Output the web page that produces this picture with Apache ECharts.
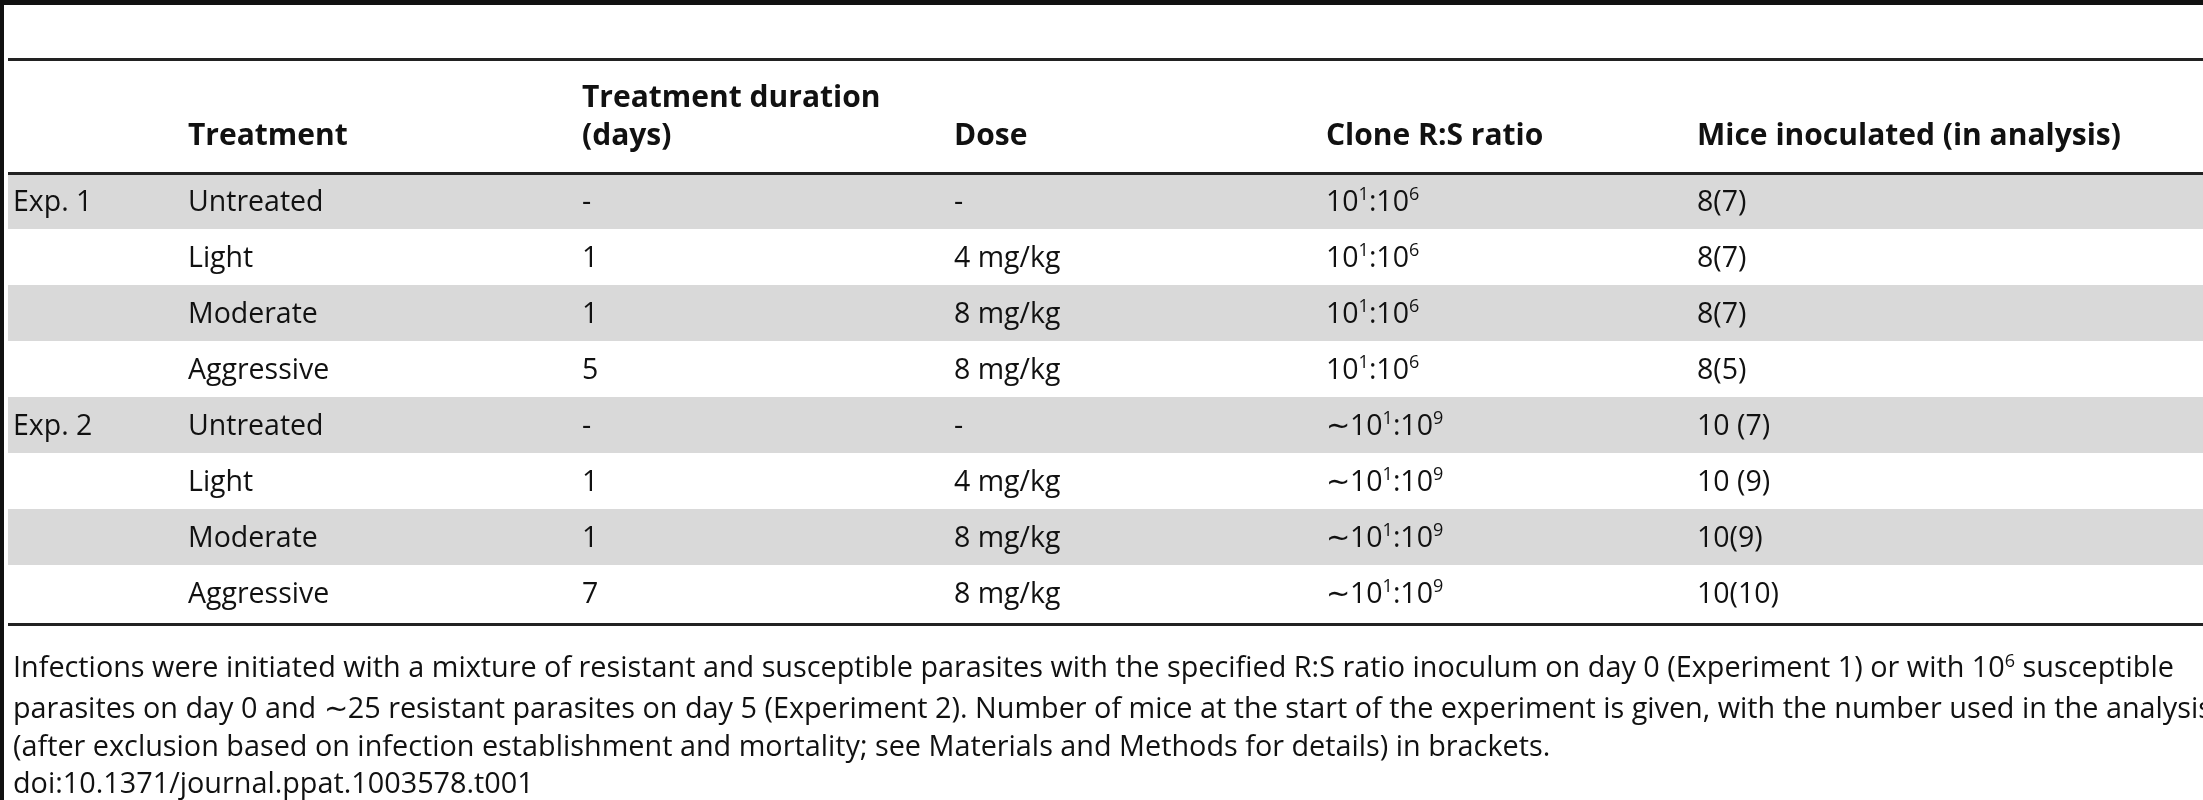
<!DOCTYPE html>
<html><head><meta charset="utf-8">
<script src="https://cdn.jsdelivr.net/npm/echarts@6/dist/echarts.min.js"></script>
<style>html,body{margin:0;padding:0;background:#fff}#c{width:2203px;height:800px}</style>
</head><body><div id="c"></div>
<script>
const headers = ["", "Treatment", "Treatment duration\n(days)", "Dose", "Clone R:S ratio", "Mice inoculated (in analysis)"];
const experiments = ["Exp. 1", "", "", "", "Exp. 2", "", "", ""];
const treatments = ["Untreated", "Light", "Moderate", "Aggressive", "Untreated", "Light", "Moderate", "Aggressive"];
const durations = ["-", "1", "1", "5", "-", "1", "1", "7"];
const doses = ["-", "4 mg/kg", "8 mg/kg", "8 mg/kg", "-", "4 mg/kg", "8 mg/kg", "8 mg/kg"];
const ratios = ["10{s|1}:10{s|6}", "10{s|1}:10{s|6}", "10{s|1}:10{s|6}", "10{s|1}:10{s|6}",
  "∼10{s|1}:10{s|9}", "∼10{s|1}:10{s|9}", "∼10{s|1}:10{s|9}", "∼10{s|1}:10{s|9}"];
const mice = ["8(7)", "8(7)", "8(7)", "8(5)", "10 (7)", "10 (9)", "10(9)", "10(10)"];
const footnote = [
  "Infections were initiated with a mixture of resistant and susceptible parasites with the specified R:S ratio inoculum on day 0 (Experiment 1) or with 10{s|6} susceptible",
  "parasites on day 0 and ∼25 resistant parasites on day 5 (Experiment 2). Number of mice at the start of the experiment is given, with the number used in the analysis",
  "(after exclusion based on infection establishment and mortality; see Materials and Methods for details) in brackets.",
  "doi:10.1371/journal.ppat.1003578.t001"
];

const colX = [13, 188, 582, 954, 1326, 1697];
const rowTop = 173, rowH = 56;
const FONT = '"Open Sans", "Noto Sans", sans-serif';
const rich = { s: { fontSize: 18, fontFamily: FONT, fill: '#111', padding: [0, 0, 16, 0] } };
const els = [];
els.push({ type: 'rect', shape: { x: 0, y: 0, width: 2203, height: 5 }, style: { fill: '#111' } });
els.push({ type: 'rect', shape: { x: 0, y: 0, width: 4, height: 800 }, style: { fill: '#111' } });
els.push({ type: 'rect', shape: { x: 8, y: 58, width: 2195, height: 3 }, style: { fill: '#222' } });
for (let i = 0; i < treatments.length; i++) {
  if (i % 2 === 0) els.push({ type: 'rect', shape: { x: 8, y: rowTop + i * rowH, width: 2195, height: rowH }, style: { fill: '#d9d9d9' } });
}
els.push({ type: 'rect', shape: { x: 8, y: 172, width: 2195, height: 3 }, style: { fill: '#222' } });
els.push({ type: 'rect', shape: { x: 8, y: rowTop + treatments.length * rowH + 2, width: 2195, height: 3 }, style: { fill: '#222' } });
headers.forEach((h, j) => {
  if (!h) return;
  const lines = h.split('\n');
  lines.forEach((l, k) => {
    els.push({ type: 'text', x: colX[j], y: 136 - (lines.length - 1 - k) * 38, style: { text: l, font: 'bold 30px ' + FONT, fill: '#111', verticalAlign: 'middle' } });
  });
});
const cols = [experiments, treatments, durations, doses, ratios, mice];
cols.forEach((col, j) => {
  col.forEach((v, i) => {
    if (!v) return;
    els.push({ type: 'text', x: colX[j], y: rowTop + i * rowH + rowH / 2 + 2,
      style: { text: v, fontSize: 28.5, fontFamily: FONT, fill: '#111', verticalAlign: 'middle', rich: rich } });
  });
});
const fy = [669, 710, 748, 785];
footnote.forEach((t, i) => {
  els.push({ type: 'text', x: 13, y: fy[i], style: { text: t, fontSize: 28.8, fontFamily: FONT, fill: '#111', verticalAlign: 'middle', rich: { s: { fontSize: 18, fontFamily: FONT, fill: '#111', padding: [0, 0, 15, 0] } } } });
});

const chart = echarts.init(document.getElementById('c'));
chart.setOption({ backgroundColor: '#fff', graphic: { elements: els } });
</script></body></html>
